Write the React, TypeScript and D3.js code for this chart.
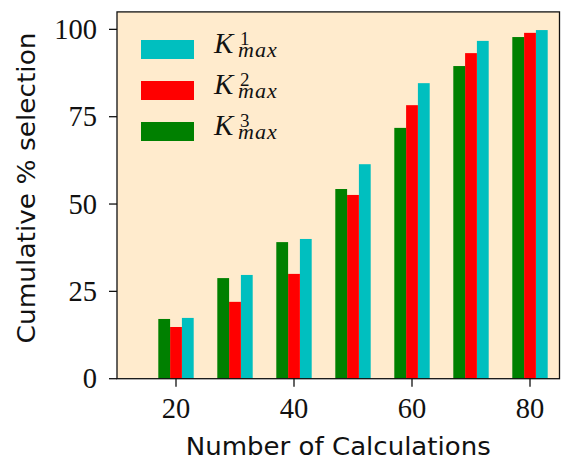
import React from "react";
import * as d3 from "d3";

const nCalc = [20, 30, 40, 50, 60, 70, 80];
const kmax1 = [17.4, 29.7, 40.0, 61.4, 84.6, 96.7, 99.8];
const kmax2 = [14.8, 22.0, 30.0, 52.6, 78.3, 93.2, 99.0];
const kmax3 = [17.1, 28.8, 39.1, 54.3, 71.8, 89.5, 97.8];
const xTicks = [20, 40, 60, 80];
const yTicks = [0, 25, 50, 75, 100];

const series = [
  { sup: "1", values: kmax1, color: "#00bfbf", offset: 2 },
  { sup: "2", values: kmax2, color: "#ff0000", offset: 0 },
  { sup: "3", values: kmax3, color: "#008000", offset: -2 },
];

const W = 561;
const H = 461;
const L = 117;
const R = 559.5;
const T = 11.9;
const B = 378.7;
const barW = 2;

export default function App() {
  const x = d3.scaleLinear().domain([10, 85]).range([L, R]);
  const y = d3.scaleLinear().domain([0, 105]).range([B, T]);
  const serif = "'Liberation Serif', 'DejaVu Serif', serif";
  const sans = "'DejaVu Sans', sans-serif";

  return (
    <svg
      width={W}
      height={H}
      style={{ position: "absolute", left: 0, top: 0, background: "#fff" }}
    >
      <rect x={L} y={T} width={R - L} height={B - T} fill="#ffebcd" />
      {series.map((s) =>
        s.values.map((v, i) => (
          <rect
            key={s.sup + i}
            x={x(nCalc[i] + s.offset - barW / 2)}
            y={y(v)}
            width={x(barW) - x(0)}
            height={y(0) - y(v)}
            fill={s.color}
          />
        ))
      )}
      <rect
        x={L}
        y={T}
        width={R - L}
        height={B - T}
        fill="none"
        stroke="#111"
        strokeWidth={1.3}
      />
      {xTicks.map((t) => (
        <g key={"xt" + t}>
          <line x1={x(t)} x2={x(t)} y1={B} y2={B + 8} stroke="#111" strokeWidth={1.3} />
          <text
            x={x(t)}
            y={B + 39.5}
            textAnchor="middle"
            fontFamily={serif}
            fontSize={28.5}
            fill="#111"
          >
            {t}
          </text>
        </g>
      ))}
      {yTicks.map((t) => (
        <g key={"yt" + t}>
          <line x1={L - 8} x2={L} y1={y(t)} y2={y(t)} stroke="#111" strokeWidth={1.3} />
          <text
            x={L - 20}
            y={y(t) + 9.5}
            textAnchor="end"
            fontFamily={serif}
            fontSize={28.5}
            fill="#111"
          >
            {t}
          </text>
        </g>
      ))}
      <text
        x={(L + R) / 2}
        y={455}
        textAnchor="middle"
        fontFamily={sans}
        fontSize={25}
        textLength={305}
        lengthAdjust="spacingAndGlyphs"
        fill="#111"
      >
        Number of Calculations
      </text>
      <text
        transform={`translate(35,188) rotate(-90)`}
        textAnchor="middle"
        fontFamily={sans}
        fontSize={25}
        textLength={311}
        lengthAdjust="spacingAndGlyphs"
        fill="#111"
      >
        Cumulative % selection
      </text>
      {series.map((s, i) => {
        const cy = 49.5 + i * 41;
        return (
          <g key={"lg" + s.sup}>
            <rect x={141} y={cy - 9.5} width={53} height={19} fill={s.color} />
            <text fontFamily={serif} fill="#111">
              <tspan x={214} y={cy + 3.5} fontStyle="italic" fontSize={29}>
                K
              </tspan>
              <tspan x={240} y={cy - 4.5} fontSize={19}>
                {s.sup}
              </tspan>
              <tspan x={238} y={cy + 7} fontStyle="italic" fontSize={22} letterSpacing={1}>
                max
              </tspan>
            </text>
          </g>
        );
      })}
    </svg>
  );
}
